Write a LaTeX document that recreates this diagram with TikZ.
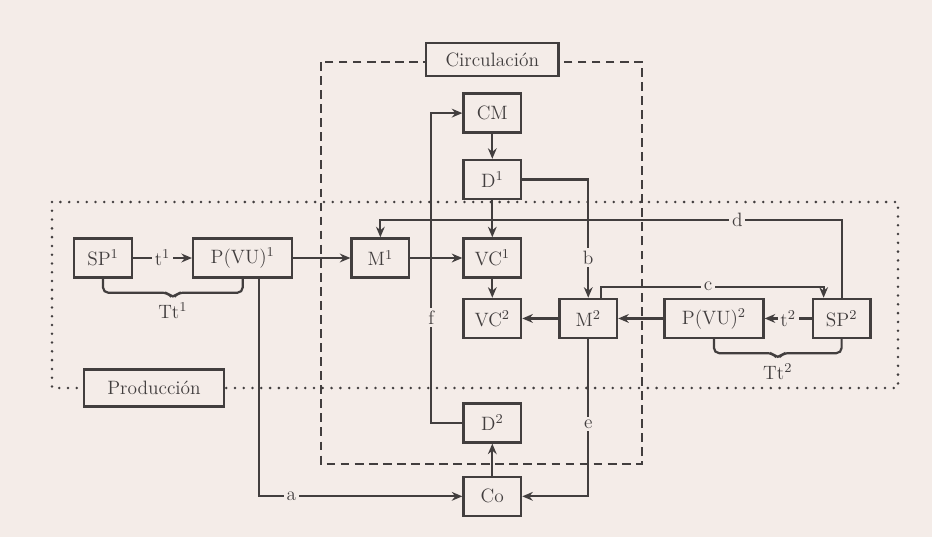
\documentclass[tikz,border=0pt]{standalone}
\usetikzlibrary{positioning, calc, arrows.meta}

\definecolor{paper}{RGB}{244,236,232}
\definecolor{ink}{RGB}{66,62,62}

\begin{document}
\begin{tikzpicture}[
    x=0.02cm, y=-0.02cm,
    color=ink,
    line width=1.25pt,
    font=\fontsize{11}{13}\selectfont,
    box/.style={
	draw,
	fill=paper,
	line width=1.4pt,
	minimum width=1.15cm,
	minimum height=0.78cm
    },
    wide/.style={box, minimum width=1.98cm},
    lbl/.style={fill=paper, inner sep=1.5pt},
    >={Stealth[length=6pt,width=5pt]}
]
	\path[use as bounding box, fill=paper] (0,0) rectangle (932,537);

	% Circulacion / Produccion frames
	\draw[line width=1.3pt, dash pattern=on 5pt off 3pt] (321,62) rectangle (642,464);
	\draw[line width=1.6pt, line cap=round, dash pattern=on 0pt off 5pt]
	    (52,202) rectangle (898,388);

	\node[box] (sp1) at (103,258) {SP\textsuperscript{1}};
	\node[wide, right=1.18cm of sp1] (p1) {P(VU)\textsuperscript{1}};
	\node[box, right=1.14cm of p1] (m1) {M\textsuperscript{1}};
	\node[box, right=1.04cm of m1] (vc1) {VC\textsuperscript{1}};
	\node[box, above=0.74cm of vc1] (d1) {D\textsuperscript{1}};
	\node[box, above=0.5cm of d1] (cm) {CM};
	\node[box, below=0.38cm of vc1] (vc2) {VC\textsuperscript{2}};
	\node[box, right=0.72cm of vc2] (m2) {M\textsuperscript{2}};
	\node[wide, right=0.9cm of m2] (p2) {P(VU)\textsuperscript{2}};
	\node[box, right=0.94cm of p2] (sp2) {SP\textsuperscript{2}};
	\node[box, below=1.26cm of vc2] (d2) {D\textsuperscript{2}};
	\node[box, below=0.64cm of d2] (co) {Co};

	\node[box, minimum width=2.65cm, minimum height=0.66cm, above=0.3cm of cm]
	    (circ) {Circulación};
	\node[box, minimum width=2.8cm, minimum height=0.74cm] (prod) at (154,388)
	    {Producción};

	% SP1 -> P(VU)1 -> M1 -> VC1
	\draw[->] (sp1) -- (p1) node[midway,lbl]{t\textsuperscript{1}};
	\draw[->] (p1) -- (m1);
	\draw[->] (m1) -- (vc1);

	% CM -> D1 -> VC1 -> VC2
	\draw[->] (cm) -- (d1);
	\draw[->] (d1) -- (vc1);
	\draw[->] (vc1) -- (vc2);

	% SP2 -> P(VU)2 -> M2 -> VC2
	\draw[->] (sp2) -- (p2) node[midway,lbl]{t\textsuperscript{2}};
	\draw[->] (p2) -- (m2);
	\draw[->] (m2) -- (vc2);
	\draw[->] (co) -- (d2);

	% a, b, c, d, e, f
	\draw[->] ($(p1.south)+(16,0)$) |- (co) node[pos=0.58,lbl]{a};
	\draw[->] (d1) -| (m2) node[pos=0.83,lbl]{b};
	\draw[->] ($(m2.north)+(13,0)$) -- ++(0,-11) -| ($(sp2.north)+(-18,0)$)
	    node[pos=0.24,lbl]{c};
	\draw[->] (sp2.north) -- ++(0,-78) -| (m1.north)
	    node[pos=0.113,lbl]{d};
	\draw[->] (m2) |- (co) node[pos=0.27,lbl]{e};
	\draw[->] (d2.west) -- ++(-31,0) |- (cm.west)
	    node[pos=0.17,lbl]{f};

	% Tt braces
	\coordinate (tt1) at ($(sp1.south)!0.5!(p1.south)+(0,14)$);
	\draw[rounded corners=3pt] (sp1.south) |- ($(tt1)+(-5,0)$)
	    -- ($(tt1)+(0,6)$) -- ($(tt1)+(5,0)$) -| (p1.south);
	\node (tt1lbl) at ($(tt1)+(0,18)$) {Tt\textsuperscript{1}};

	\coordinate (tt2) at ($(p2.south)!0.5!(sp2.south)+(0,14)$);
	\draw[rounded corners=3pt] (p2.south) |- ($(tt2)+(-5,0)$)
	    -- ($(tt2)+(0,6)$) -- ($(tt2)+(5,0)$) -| (sp2.south);
	\node (tt2lbl) at ($(tt2)+(0,18)$) {Tt\textsuperscript{2}};
\end{tikzpicture}
\end{document}
